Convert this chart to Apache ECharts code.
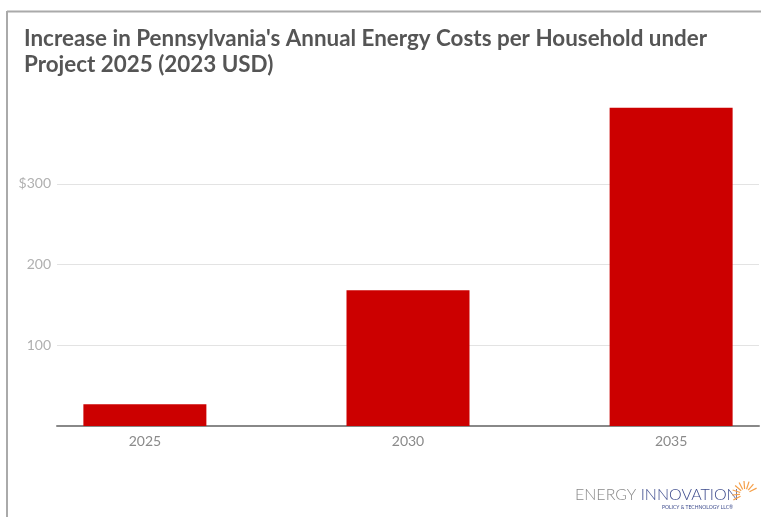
<!DOCTYPE html>
<html>
<head>
<meta charset="utf-8">
<script src="https://cdn.jsdelivr.net/npm/echarts@6/dist/echarts.min.js"></script>
<style>
html,body{margin:0;padding:0;background:#fff;}
#chart{width:761px;height:517px;}
</style>
</head>
<body>
<div id="chart"></div>
<script>
const titleText = "Increase in Pennsylvania's Annual Energy Costs per Household under\nProject 2025 (2023 USD)";
const years = [2025, 2030, 2035];
const costIncrease = [27, 168, 394];
const yTicks = [100, 200, 300];

const chart = echarts.init(document.getElementById('chart'));
const rays = [];
for (let i = 0; i < 9; i++) {
  const a = Math.PI * (0.15 + i * 0.125);
  const cx = 745, cy = 494;
  rays.push({
    type: 'line',
    shape: {x1: cx + Math.cos(a) * 5, y1: cy - Math.sin(a) * 5, x2: cx + Math.cos(a) * 13, y2: cy - Math.sin(a) * 13},
    style: {stroke: '#f5a04a', lineWidth: 1.2}
  });
}
chart.setOption({
  animation: false,
  title: {
    text: titleText,
    left: 19, top: 21,
    textStyle: {fontFamily: 'Lato', fontWeight: 'bold', fontSize: 22.4, color: '#555', lineHeight: 26}
  },
  grid: {left: 57, right: 2, top: 103, bottom: 91, containLabel: false},
  xAxis: {
    type: 'value',
    min: 2023.33, max: 2036.67,
    axisLine: {show: true, onZero: false, lineStyle: {color: '#888', width: 2}},
    axisTick: {show: false},
    splitLine: {show: false},
    axisLabel: {
      customValues: years,
      formatter: v => String(v),
      color: '#8a8a8a', fontFamily: 'Lato', fontSize: 14, margin: 8
    }
  },
  yAxis: {
    type: 'value',
    min: 0, max: 400, interval: 100,
    axisLine: {show: false},
    axisTick: {show: false},
    splitLine: {show: true, showMaxLine: false, lineStyle: {color: '#e3e3e3', width: 1}},
    axisLabel: {
      showMaxLabel: false,
      formatter: v => v === 300 ? '$300' : (yTicks.includes(v) ? String(v) : ''),
      color: '#b0b0b0', fontFamily: 'Lato', fontSize: 14, margin: 6
    }
  },
  series: [{
    type: 'bar',
    data: years.map((y, i) => [y, costIncrease[i]]),
    barWidth: 123,
    itemStyle: {color: '#cc0000'}
  }],
  graphic: [
    {type: 'line', shape: {x1: 7, y1: 11.5, x2: 761, y2: 11.5}, style: {stroke: '#aaa', lineWidth: 2}},
    {type: 'line', shape: {x1: 7, y1: 11, x2: 7, y2: 517}, style: {stroke: '#aaa', lineWidth: 2}},
    {type: 'text', left: 575, top: 487, style: {
      text: '{a|ENERGY }{b|INNOVATION}',
      rich: {
        a: {fontFamily: 'Lato', fontWeight: 300, fontSize: 16, fill: '#8a8a8a'},
        b: {fontFamily: 'Lato', fontWeight: 300, fontSize: 16, fill: '#3c4a8c'}
      }
    }},
    {type: 'text', left: 662, top: 505, style: {text: 'POLICY & TECHNOLOGY LLC®', fontFamily: 'Lato', fontSize: 5, fill: '#3c4a8c'}},
    ...rays
  ]
});
</script>
</body>
</html>
